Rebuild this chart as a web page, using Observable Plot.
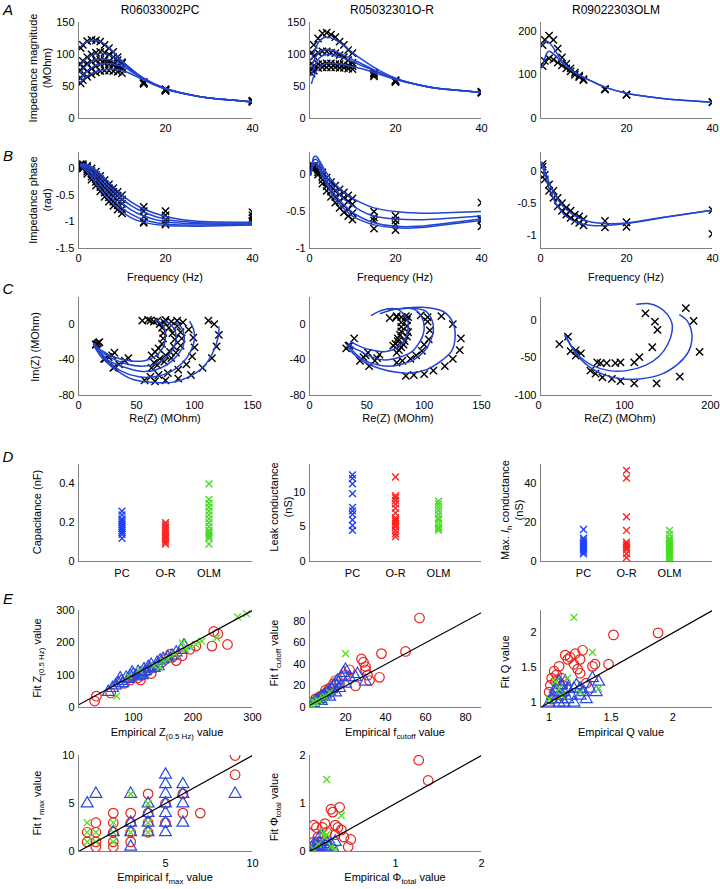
<!DOCTYPE html>
<html><head><meta charset="utf-8">
<script src="https://cdn.jsdelivr.net/npm/d3@7"></script>
<script src="https://cdn.jsdelivr.net/npm/@observablehq/plot@0.6"></script>
<style>
body{margin:0;background:#fff;}
#fig{position:relative;width:720px;height:889px;overflow:hidden;background:#fff;}
</style></head><body><div id="fig"></div>
<script>
// ---------- DATA ----------
const titles = ["R06033002PC", "R05032301O-R", "R09022303OLM"];
const cats = ["PC", "O-R", "OLM"];
const freq = [0.5,1,2,3,4,5,6,7,8,9,10,15,20,40];

// A: impedance magnitude (data)
const magPC = [
  [110,115,121,123,122,120,115,110,104,96,88,57,46,28],
  [85,90,96,100,103,104,103,100,96,91,86,56,45,27],
  [75,80,86,89,91,92,91,89,86,83,80,55,44,27],
  [63,68,74,78,82,85,86,85,83,80,77,55,44,26],
  [55,60,65,69,72,74,75,75,74,73,71,54,43,26]];
const magOR = [
  [103,115,125,133,134,131,127,120,115,107,102,72,60,42],
  [86,97,103,105,105,103,102,99,96,91,87,70,59,41],
  [76,82,85,85,86,86,85,85,84,83,82,68,58,41],
  [70,75,79,80,80,80,80,79,79,78,77,66,57,40]];
const magOLM = [
  [168,180,190,180,160,140,125,115,105,98,90,68,55,38],
  [120,132,138,135,128,122,115,108,100,95,88,66,54,37]];
// A: fits
const fitFreqA = [0.5,1,2,3,4,5,6,7,8,10,12,15,20,25,30,40];
const magFitPC = [
  [112,116,120,122,122,120,116,110,104,90,78,62,46,38,32,26],
  [84,88,95,99,101,102,101,99,96,88,78,63,47,38,32,26],
  [72,77,84,89,92,93,93,92,90,84,76,62,47,38,32,26],
  [62,67,74,79,83,85,86,86,85,81,74,61,46,38,32,26],
  [56,60,66,70,73,75,76,77,77,75,70,60,46,38,32,26]];
const magFitOR = [
  [92,102,118,125,127,126,123,119,114,103,93,80,63,53,47,41],
  [80,90,102,107,108,107,105,102,99,92,86,76,62,53,47,41],
  [68,79,92,98,100,100,98,96,94,89,83,75,62,53,47,41],
  [55,66,78,84,86,86,86,85,84,81,78,72,61,53,47,41]];
const fitFreqA3 = [0.5,1,1.5,2,3,4,5,6,7,8,10,12,15,20,25,30,40];
const magFitOLM = [
  [168,176,177,174,162,146,132,122,113,106,95,85,72,58,50,44,37],
  [118,138,150,154,148,138,128,120,112,105,94,85,72,58,50,44,37]];

// B: impedance phase (data)
const phPC = [
  [0.08,0.08,0.05,0,-0.06,-0.14,-0.22,-0.3,-0.37,-0.44,-0.5,-0.72,-0.8,-0.82],
  [0.07,0.06,0.02,-0.05,-0.12,-0.2,-0.29,-0.37,-0.44,-0.51,-0.58,-0.8,-0.88,-0.88],
  [0.06,0.04,-0.02,-0.1,-0.18,-0.27,-0.36,-0.44,-0.52,-0.59,-0.66,-0.9,-0.96,-0.93],
  [0.05,0.02,-0.06,-0.15,-0.25,-0.35,-0.45,-0.54,-0.62,-0.69,-0.76,-1.0,-1.03,-0.98],
  [0.04,0,-0.1,-0.21,-0.32,-0.43,-0.53,-0.62,-0.7,-0.77,-0.84,-1.02,-1.05,-1.0]];
const phOR = [
  [0.1,0.12,0.1,0.03,-0.04,-0.1,-0.15,-0.2,-0.24,-0.28,-0.32,-0.5,-0.56,-0.38],
  [0.1,0.11,0.06,-0.02,-0.1,-0.16,-0.22,-0.27,-0.31,-0.36,-0.4,-0.58,-0.62,-0.6],
  [0.09,0.1,0.03,-0.07,-0.16,-0.23,-0.3,-0.36,-0.42,-0.47,-0.52,-0.62,-0.67,-0.62],
  [0.08,0.08,0,-0.12,-0.22,-0.3,-0.38,-0.45,-0.51,-0.56,-0.61,-0.73,-0.75,-0.7]];
const phOLM = [
  [0.12,-0.05,-0.2,-0.3,-0.41,-0.49,-0.56,-0.61,-0.67,-0.7,-0.74,-0.77,-0.79,-0.6],
  [0.08,-0.12,-0.3,-0.41,-0.54,-0.61,-0.67,-0.72,-0.77,-0.8,-0.84,-0.87,-0.86,-0.97]];
// B: fits
const fitFreqB1 = [0.5,1,2,3,4,5,6,8,10,12,15,20,25,30,40];
const phFitPC = [
  [0.08,0.09,0.07,0.03,-0.03,-0.1,-0.18,-0.34,-0.5,-0.62,-0.76,-0.9,-0.97,-1.0,-1.01],
  [0.07,0.08,0.05,0,-0.07,-0.15,-0.24,-0.41,-0.57,-0.69,-0.82,-0.95,-1.0,-1.02,-1.02],
  [0.06,0.06,0.02,-0.05,-0.13,-0.22,-0.31,-0.49,-0.65,-0.77,-0.89,-1.0,-1.03,-1.04,-1.04],
  [0.05,0.04,-0.02,-0.1,-0.2,-0.3,-0.4,-0.58,-0.74,-0.85,-0.96,-1.04,-1.06,-1.06,-1.05],
  [0.04,0.01,-0.07,-0.17,-0.28,-0.39,-0.49,-0.67,-0.81,-0.92,-1.01,-1.07,-1.08,-1.08,-1.06]];
const fitFreqB2 = [0.3,0.7,1,1.5,2,3,4,5,6,8,10,12,15,20,25,30,40];
const phFitOR = [
  [0.0,0.18,0.24,0.25,0.22,0.12,0.02,-0.06,-0.13,-0.24,-0.32,-0.38,-0.45,-0.5,-0.52,-0.52,-0.5],
  [0.0,0.15,0.2,0.21,0.18,0.08,-0.03,-0.12,-0.2,-0.33,-0.42,-0.49,-0.56,-0.6,-0.61,-0.6,-0.56],
  [0.0,0.12,0.16,0.16,0.13,0.02,-0.09,-0.19,-0.28,-0.41,-0.51,-0.58,-0.65,-0.7,-0.7,-0.67,-0.6],
  [0.0,0.1,0.13,0.13,0.1,-0.02,-0.13,-0.24,-0.33,-0.46,-0.56,-0.62,-0.68,-0.72,-0.72,-0.69,-0.62]];
const fitFreqB3 = [0.3,0.6,1,1.5,2,3,4,5,6,8,10,12,15,20,25,30,40];
const phFitOLM = [
  [0.15,0.1,0.02,-0.08,-0.17,-0.32,-0.43,-0.52,-0.59,-0.69,-0.75,-0.79,-0.81,-0.8,-0.75,-0.7,-0.6],
  [0.12,0.05,-0.05,-0.16,-0.26,-0.42,-0.54,-0.63,-0.7,-0.78,-0.82,-0.84,-0.84,-0.81,-0.76,-0.7,-0.6]];

// C: Nyquist (data) Re / Im per recording
const rePC = [
  [112,117,121,119,115,107,97,86,75,66,57,30,22,15],
  [85,90,95,99,100,98,93,86,77,69,62,31,23,15],
  [75,80,85,88,89,88,84,80,74,68,63,35,26,16],
  [62,68,74,78,81,83,82,79,75,70,65,40,29,17],
  [55,60,65,70,72,73,73,72,69,66,63,43,31,18]];
const imPC = [
  [4,0,-12,-25,-38,-49,-57,-61,-63,-64,-63,-49,-39,-23],
  [4,2,-6,-15,-26,-36,-45,-51,-55,-57,-59,-48,-39,-23],
  [5,3,-2,-9,-16,-24,-32,-38,-42,-46,-49,-45,-37,-22],
  [4,4,2,-4,-10,-17,-25,-31,-35,-39,-43,-41,-35,-21],
  [4,5,3,0,-4,-10,-16,-22,-27,-31,-35,-38,-32,-20]];
const reOR = [
  [103,115,125,132,131,125,118,108,100,91,84,52,44,32],
  [86,97,103,105,104,100,98,93,88,81,76,57,47,34],
  [76,84,85,85,86,85,83,82,80,78,76,59,49,35],
  [70,76,80,80,80,80,79,77,77,75,73,61,51,39]];
const imOR = [
  [8,9,0,-16,-29,-39,-47,-52,-56,-57,-58,-47,-41,-27],
  [8,10,3,-7,-17,-23,-30,-35,-39,-41,-43,-41,-37,-24],
  [8,9,5,-2,-9,-14,-19,-23,-26,-29,-32,-38,-35,-24],
  [7,9,8,2,-3,-8,-12,-16,-19,-22,-24,-34,-32,-16]];
const reOLM = [
  [122,133,136,130,115,109,93,87,77,70,66,47,41,32],
  [169,178,185,162,135,109,93,83,72,64,58,41,35,22]];
const imOLM = [
  [9,-2,-13,-36,-49,-56,-56,-57,-57,-57,-56,-44,-40,-22],
  [16,-1,-42,-75,-84,-84,-81,-78,-76,-71,-67,-47,-41,-32]];
// C: fitted arcs
const reFitPC = [
  [121,121,119,115,109,101,82,62,47,33,22,18,15,13],
  [96,99,100,99,96,92,80,65,52,36,24,19,16,13],
  [84,89,91,91,89,80,67,55,39,25,20,16,13],
  [74,79,83,84,84,78,68,57,42,27,21,17,14],
  [66,70,73,75,75,73,66,57,44,29,22,17,14]];
const imFitPC = [
  [-3,-10,-21,-34,-46,-55,-65,-65,-62,-52,-40,-34,-28,-23],
  [3,-5,-14,-23,-32,-40,-53,-59,-59,-52,-40,-33,-28,-23],
  [2,-4,-12,-20,-28,-42,-51,-53,-48,-40,-33,-28,-22],
  [4,0,-6,-13,-20,-34,-44,-47,-45,-37,-32,-27,-22],
  [5,2,-2,-8,-14,-26,-36,-41,-41,-36,-31,-27,-22]];
const reFitOR = [
  [82,99,117,125,127,124,116,102,87,76,62,47,40,36,33],
  [69,87,101,107,108,105,101,91,80,72,61,47,41,37,34],
  [62,76,91,98,100,99,96,89,81,73,64,51,44,39,35],
  [54,64,76,83,86,86,85,82,77,72,65,54,46,41,36]];
const imFitOR = [
  [18,19,14,2,-14,-30,-40,-51,-55,-54,-50,-42,-35,-30,-24],
  [16,18,15,4,-8,-20,-29,-40,-45,-47,-46,-40,-34,-29,-23],
  [12,17,17,8,-3,-12,-20,-31,-36,-39,-40,-35,-30,-27,-22],
  [10,16,17,10,2,-5,-11,-20,-26,-29,-31,-29,-26,-23,-20]];
const reFitOLM = [
  [112,125,138,148,153,153,148,138,122,100,80,60,45,35,28],
  [162,170,175,176,172,160,140,115,95,75,58,45,36,30]];
const imFitOLM = [
  [21,22,17,7,-5,-15,-32,-48,-60,-67,-67,-60,-48,-33,-20],
  [7,0,-12,-27,-42,-58,-72,-78,-78,-73,-63,-50,-35,-22]];

// D: fitted parameters per cell type
const capPC = [0.12,0.14,0.15,0.16,0.17,0.18,0.19,0.2,0.21,0.22,0.24,0.26];
const capOR = [0.09,0.1,0.11,0.12,0.13,0.14,0.15,0.16,0.17,0.18,0.19,0.2];
const capOLM = [0.09,0.12,0.13,0.14,0.15,0.16,0.18,0.2,0.22,0.24,0.26,0.28,0.3,0.32,0.4];
const leakPC = [4.5,5.2,6,6.8,7.3,7.8,9.8,11.2,12,12.5];
const leakOR = [3.6,4,4.5,5,5.2,5.5,5.8,6,6.3,7,7.7,8.3,8.8,9.2,9.5,12.2];
const leakOLM = [4.5,4.8,5,5.5,6,6.3,6.8,7.3,7.8,8.3,8.7];
const ihPC = [4,5,6,7,8,9,10,11,12,16.5];
const ihOR = [2,4,6,7,8,9,10,16,23,43,47];
const ihOLM = [0,1,2,3,4,5,6,7,8,9,10,11,12,14,16];

// E: empirical vs fit
const zPCx = [58,65,70,75,80,82,88,92,95,100,105,108,112,118,120,125,130,135,140,145,150,158,165,172,180,185,78,98,115,128,142];
const zPCy = [48,60,68,75,82,75,92,88,98,102,96,110,105,118,112,125,132,122,138,145,150,155,160,170,178,192,90,108,100,120,128];
const zORx = [35,38,62,85,95,100,108,115,120,130,135,148,155,162,165,172,182,195,205,232,235,242,258,112,125];
const zORy = [20,35,45,75,85,95,92,100,110,105,125,140,150,165,155,145,160,180,190,190,235,228,195,85,115];
const zOLMx = [72,92,110,135,150,158,170,182,188,195,205,215,240,275,290,145];
const zOLMy = [35,98,115,130,145,150,165,200,180,190,195,205,215,280,290,125];
const fcPCx = [3,4,5,6,7,8,9,10,11,12,13,14,15,16,17,18,19,20,20,22,25,26,30,8,12,15];
const fcPCy = [3,4,6,7,8,10,11,12,14,15,17,20,22,25,18,28,32,35,22,28,28,31,24,6,10,14];
const fcORx = [5,7,9,10,12,14,15,17,20,22,25,28,29,30,30,31,32,37,38,50,57];
const fcORy = [8,10,12,16,18,22,25,22,30,35,20,45,42,38,35,30,25,28,50,52,83];
const fcOLMx = [2,3,4,5,6,7,9,10,20,12,3];
const fcOLMy = [2,3,5,5,7,6,9,10,50,14,1];
const qPCx = [1.0,1.02,1.03,1.05,1.05,1.07,1.08,1.1,1.1,1.12,1.13,1.15,1.15,1.18,1.2,1.2,1.22,1.25,1.25,1.28,1.3,1.33,1.35,1.38,1.4,1.12,1.08];
const qPCy = [1.0,1.05,1.1,1.15,1.2,1.1,1.0,1.25,1.05,1.15,1.3,1.2,1.05,1.1,1.0,1.2,1.25,1.1,1.2,1.15,1.05,1.2,1.35,1.15,1.3,1.0,1.3];
const qORx = [1.0,1.01,1.02,1.04,1.05,1.06,1.08,1.1,1.11,1.13,1.15,1.17,1.2,1.21,1.23,1.25,1.25,1.27,1.3,1.35,1.37,1.48,1.52,1.88,1.02,1.1];
const qORy = [1.15,1.25,1.35,1.45,1.3,1.4,1.52,1.35,1.25,1.68,1.62,1.65,1.55,1.7,1.48,1.42,1.62,1.75,1.28,1.52,1.55,1.55,1.97,2.0,1.05,1.1];
const qOLMx = [1.2,1.35,1.05,1.1,1.15,1.0,1.4,1.25,1.08];
const qOLMy = [2.22,1.72,1.3,1.1,1.35,1.05,1.2,1.15,1.2];
const fmPCx = [0.5,1,2,3,3,3,3,4,4,4,4,5,5,5,5,5,5,5,6,6,6,6,9];
const fmPCy = [5,6,2,0.5,2,3,6,2,3,4,5,2,3,4,5,6,7,8,3,5,6,7,6];
const fmORx = [0.5,0.5,1,1,1,1,2,2,2,2,2,3,3,3,3,4,4,4,4,5,5,6,6,7,9,9];
const fmORy = [1,2,0.5,1,2,3,0.5,1,2,3,4,1,2,3,4,2,3,4,6,3,5,4,6,4,8,10];
const fmOLMx = [0.5,0.5,0.5,1,2,2,2,3,3,4,4,4,1];
const fmOLMy = [1,2,3,2,1,2,3,2,6,2,3,5,1];
const phiPCx = [0.05,0.06,0.08,0.1,0.12,0.15,0.18,0.2,0.22,0.25,0.3,0.1,0.15,0.05,0.28,0.07,0.13,0.2];
const phiPCy = [0.02,0.1,0.05,0.1,0.15,0.08,0.12,0.2,0.1,0.15,0.2,0.25,0.3,0.15,0.05,0.0,0.02,0.05];
const phiORx = [0.03,0.05,0.08,0.1,0.12,0.15,0.18,0.2,0.25,0.27,0.3,0.33,0.35,0.37,0.4,0.45,0.48,0.3,1.27,1.38,0.05,0.08];
const phiORy = [0.1,0.55,0.5,0.3,0.2,0.5,0.58,0.4,0.88,0.82,0.55,0.5,0.92,0.45,0.3,0.1,0.25,0.35,1.9,1.48,0.2,0.05];
const phiOLMx = [0.2,0.37,0.15,0.2,0.1,0.05,0.25,0.3,0.18];
const phiOLMy = [1.5,0.75,0.4,0.35,0.15,0.05,0.1,0.05,0.3];

// ---------- DRAWING ----------
const fig = document.getElementById("fig");
const FONT = '"Liberation Sans", Arial, Helvetica, sans-serif';
const AX = "#808080", FIT = "#2244d0";
const CPC = "#1f3fff", COR = "#ff2020", COLM = "#44dd22";
const TRI = "#2a48dc", CIR = "#e8231c", XG = "#55dd22";

const fam = (xs, series) => series.flatMap((ys, k) => ys.map((y, i) => ({x: xs[i], y, k})));
const zip = (xs, ys) => xs.map((x, i) => ({x, y: ys[i]}));
const zipSeries = (X, Y) => X.flatMap((xs, k) => xs.map((x, i) => ({x, y: Y[k][i], k})));
const fmt = d => String(d);

function panel(o) {
  const mL = 60, mR = 8, mT = 10, mB = 30;
  const svg = Plot.plot({
    width: o.w + mL + mR, height: o.h + mT + mB,
    marginLeft: mL, marginRight: mR, marginTop: mT, marginBottom: mB,
    style: {fontFamily: FONT, fontSize: "11px", background: "transparent", color: "#000", overflow: "visible"},
    x: {domain: o.xd, label: null},
    y: {domain: o.yd, label: null},
    marks: [
      ...o.marks,
      Plot.ruleX([o.xd[0]], {stroke: AX, strokeWidth: 1}),
      Plot.ruleY([o.yd[0]], {stroke: AX, strokeWidth: 1}),
      Plot.axisX(o.xt, {tickSize: 0, tickPadding: o.xp, tickFormat: o.xf || fmt, label: null, dx: o.xdx || 0}),
      Plot.axisY(o.yt, {tickSize: 0, tickPadding: 4, tickFormat: fmt, label: null})
    ]
  });
  svg.style.position = "absolute";
  svg.style.left = (o.left - mL) + "px";
  svg.style.top = (o.top - mT) + "px";
  fig.appendChild(svg);
}

const crosses = (data, color, r = 3.4) => Plot.dot(data, {x: "x", y: "y", symbol: "times", r, stroke: color, strokeWidth: 1.4, fill: "none", clip: true});
const fits = (data) => Plot.line(data, {x: "x", y: "y", z: "k", stroke: FIT, strokeWidth: 1.5, curve: "natural", clip: true});
const arcs = (data) => Plot.line(data, {x: "x", y: "y", z: "k", stroke: FIT, strokeWidth: 1.5, curve: "catmull-rom", clip: true});

const COLS = [{left: 78, w: 174}, {left: 309, w: 172}, {left: 540, w: 172}];

// Row A
const A = [
  {data: magPC, fit: magFitPC, ff: fitFreqA, yd: [0,150], yt: [0,50,100,150]},
  {data: magOR, fit: magFitOR, ff: fitFreqA, yd: [0,150], yt: [0,50,100,150]},
  {data: magOLM, fit: magFitOLM, ff: fitFreqA3, yd: [0,220], yt: [0,100,200]}];
A.forEach((p, c) => panel({...COLS[c], top: 22, h: 96, xd: [0,40], yd: p.yd, xt: [20,40], yt: p.yt, xp: 6,
  marks: [crosses(fam(freq, p.data), "#000"), fits(fam(p.ff, p.fit))]}));

// Row B
const B = [
  {data: phPC, fit: phFitPC, ff: fitFreqB1, yd: [-1.5,0.3], yt: [-1.5,-1,-0.5,0]},
  {data: phOR, fit: phFitOR, ff: fitFreqB2, yd: [-1,0.3], yt: [-1,-0.5,0]},
  {data: phOLM, fit: phFitOLM, ff: fitFreqB3, yd: [-1.2,0.3], yt: [-1,-0.5,0]}];
B.forEach((p, c) => panel({...COLS[c], top: 152, h: 96, xd: [0,40], yd: p.yd, xt: [0,20,40], yt: p.yt, xp: 6,
  marks: [crosses(fam(freq, p.data), "#000"), fits(fam(p.ff, p.fit))]}));

// Row C
const C = [
  {re: rePC, im: imPC, fre: reFitPC, fim: imFitPC, xd: [0,150], yd: [-80,30], xt: [0,50,100,150], yt: [-80,-40,0]},
  {re: reOR, im: imOR, fre: reFitOR, fim: imFitOR, xd: [0,150], yd: [-80,30], xt: [0,50,100,150], yt: [-80,-40,0]},
  {re: reOLM, im: imOLM, fre: reFitOLM, fim: imFitOLM, xd: [0,200], yd: [-100,30], xt: [0,100,200], yt: [-100,-50,0], xdx: -2}];
C.forEach((p, c) => panel({...COLS[c], top: 297, h: 98, xd: p.xd, yd: p.yd, xt: p.xt, yt: p.yt, xp: 6, xdx: p.xdx,
  marks: [crosses(zipSeries(p.re, p.im), "#000"), arcs(zipSeries(p.fre, p.fim))]}));

// Row D
const D = [
  {g: [capPC, capOR, capOLM], yd: [0,0.5], yt: [0,0.2,0.4]},
  {g: [leakPC, leakOR, leakOLM], yd: [0,14], yt: [0,5,10]},
  {g: [ihPC, ihOR, ihOLM], yd: [0,50], yt: [0,20,40]}];
const dColors = [CPC, COR, COLM];
D.forEach((p, c) => panel({...COLS[c], top: 464, h: 97, xd: [0,4], yd: p.yd, xt: [1,2,3], xf: d => cats[d-1], yt: p.yt, xp: 8,
  marks: p.g.map((vals, gi) => crosses(vals.map(v => ({x: gi + 1, y: v})), dColors[gi], 3.2))}));

// Row E
function eMarks(pc, or, olm, xd, yd) {
  const lo = Math.min(xd[0], yd[0]), hi = Math.max(xd[1], yd[1]);
  return [
    Plot.dot(or, {x: "x", y: "y", symbol: "circle", r: 4.8, stroke: CIR, strokeWidth: 1.2, fill: "none", clip: true}),
    Plot.dot(pc, {x: "x", y: "y", symbol: "triangle", r: 4.4, stroke: TRI, strokeWidth: 1.2, fill: "none", clip: true}),
    Plot.dot(olm, {x: "x", y: "y", symbol: "times", r: 3.2, stroke: XG, strokeWidth: 1.3, fill: "none", clip: true}),
    Plot.line([{x: lo, y: lo}, {x: hi, y: hi}], {x: "x", y: "y", stroke: "#000", strokeWidth: 1.2, clip: true})
  ];
}
const E1 = [
  {pc: zip(zPCx, zPCy), or: zip(zORx, zORy), olm: zip(zOLMx, zOLMy), xd: [8,300], yd: [0,300], xt: [100,200,300], yt: [0,100,200,300]},
  {pc: zip(fcPCx, fcPCy), or: zip(fcORx, fcORy), olm: zip(fcOLMx, fcOLMy), xd: [2,88], yd: [0,90], xt: [20,40,60,80], yt: [0,20,40,60,80]},
  {pc: zip(qPCx, qPCy), or: zip(qORx, qORy), olm: zip(qOLMx, qOLMy), xd: [0.93,2.32], yd: [0.93,2.32], xt: [1,1.5,2], yt: [1,1.5,2]}];
E1.forEach((p, c) => panel({...COLS[c], top: 610, h: 97, xd: p.xd, yd: p.yd, xt: p.xt, yt: p.yt, xp: 6,
  marks: eMarks(p.pc, p.or, p.olm, p.xd, p.yd)}));
const E2 = [
  {pc: zip(fmPCx, fmPCy), or: zip(fmORx, fmORy), olm: zip(fmOLMx, fmOLMy), xd: [0,10], yd: [0,10], xt: [5,10], yt: [0,5,10]},
  {pc: zip(phiPCx, phiPCy), or: zip(phiORx, phiORy), olm: zip(phiOLMx, phiOLMy), xd: [0,2], yd: [0,2], xt: [1,2], yt: [0,1,2]}];
E2.forEach((p, c) => panel({...COLS[c], top: 755, h: 96, xd: p.xd, yd: p.yd, xt: p.xt, yt: p.yt, xp: 8,
  marks: eMarks(p.pc, p.or, p.olm, p.xd, p.yd)}));

// ---------- TEXT OVERLAY ----------
const ov = d3.select(fig).append("svg").attr("width", 720).attr("height", 889)
  .style("position", "absolute").style("left", "0px").style("top", "0px")
  .style("pointer-events", "none").attr("font-family", FONT);
function txt(x, y, parts, {rot = false, size = 11, italic = false} = {}) {
  const t = ov.append("text").attr("text-anchor", "middle").attr("dominant-baseline", "central")
    .attr("font-size", size).attr("fill", "#000")
    .attr("transform", `translate(${x},${y})` + (rot ? " rotate(-90)" : ""));
  if (italic) t.attr("font-style", "italic");
  for (const p of (typeof parts === "string" ? [parts] : parts)) {
    if (typeof p === "string") t.append("tspan").text(p);
    else {
      const s = t.append("tspan").text(p.t);
      if (p.sub) s.attr("baseline-shift", "sub").attr("font-size", size * 0.72);
      if (p.i) s.attr("font-style", "italic");
    }
  }
}
// titles
[160, 392, 616].forEach((x, i) => txt(x, 10, titles[i], {size: 12}));
// panel letters
[["A", 9], ["B", 155], ["C", 288], ["D", 456], ["E", 598]].forEach(([l, y]) => txt(8, y, l, {size: 15, italic: true}));
// y labels
txt(33, 68, "Impedance magnitude", {rot: true}); txt(47, 68, "(MOhm)", {rot: true});
txt(33, 200, "Impedance phase", {rot: true}); txt(47, 200, "(rad)", {rot: true});
txt(35, 347, "Im(Z) (MOhm)", {rot: true});
txt(37, 512, "Capacitance (nF)", {rot: true});
txt(274, 507, "Leak conductance", {rot: true}); txt(288, 507, "(nS)", {rot: true});
txt(505, 510, ["Max. ", {t: "I", i: true}, {t: "h", sub: true}, " conductance"], {rot: true}); txt(519, 510, "(nS)", {rot: true});
txt(37, 658, ["Fit Z", {t: "(0.5 Hz)", sub: true}, " value"], {rot: true});
txt(274, 653, ["Fit f", {t: "cutoff", sub: true}, " value"], {rot: true});
txt(505, 662, "Fit Q value", {rot: true});
txt(37, 803, ["Fit f", {t: " max", sub: true}, "  value"], {rot: true});
txt(274, 807, ["Fit Φ", {t: "total", sub: true}, " value"], {rot: true});
// x labels
[165, 395, 626].forEach(x => txt(x, 277, "Frequency (Hz)"));
[165, 398, 620].forEach(x => txt(x, 418, "Re(Z) (MOhm)"));
txt(167, 732, ["Empirical Z", {t: "(0.5 Hz)", sub: true}, " value"]);
txt(395, 732, ["Empirical f", {t: "cutoff", sub: true}, " value"]);
txt(621, 732, "Empirical Q value");
txt(165, 877, ["Empirical f", {t: "max", sub: true}, " value"]);
txt(395, 877, ["Empirical Φ", {t: "total", sub: true}, " value"]);
</script></body></html>
